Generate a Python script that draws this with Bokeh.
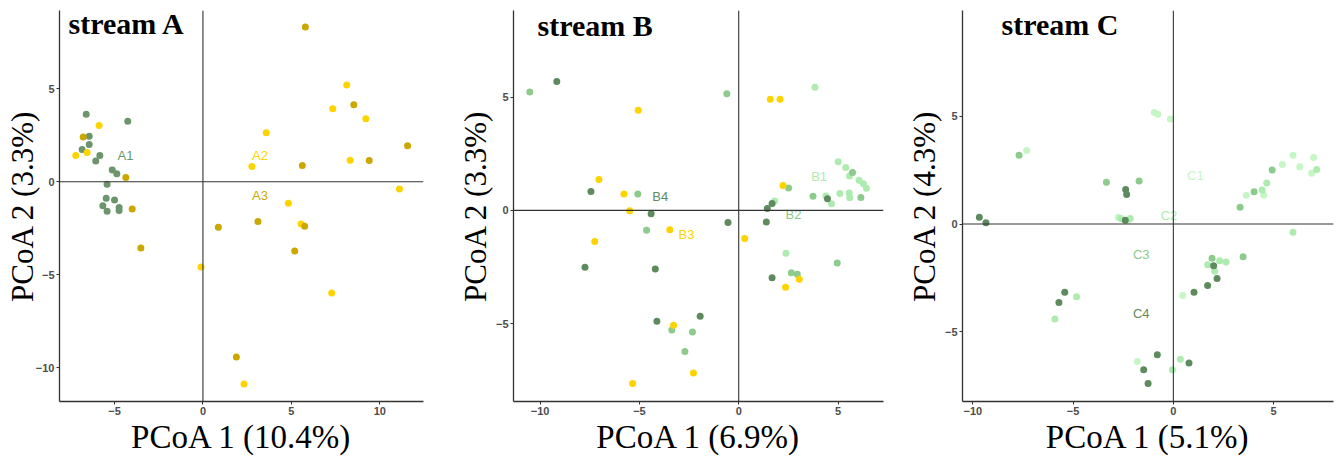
from bokeh.plotting import figure
from bokeh.layouts import row
from bokeh.models import Span, Label, ColumnDataSource, FixedTicker, Range1d
from bokeh.core.properties import value
from bokeh.embed import file_html
from bokeh.resources import INLINE

# ---------------- data ----------------
# stream A
a1_x = [-6.6, -4.25, -6.43, -6.43, -6.83, -5.83, -6.06, -5.13, -4.87, -5.42, -5.47, -5.0, -5.66, -4.74, -4.74, -5.42]
a1_y = [3.63, 3.25, 2.45, 2.0, 1.73, 1.41, 1.11, 0.63, 0.43, -0.14, -0.89, -0.98, -1.29, -1.38, -1.55, -1.59]
a2_x = [-5.87, -7.19, -6.55, 3.58, 2.77, 8.13, 7.34, 9.21, 8.32, 11.11, 4.83, 5.55, -0.11, 7.28, 2.32]
a2_y = [3.02, 1.41, 1.57, 2.64, 0.82, 5.2, 3.93, 3.39, 1.16, -0.39, -1.16, -2.27, -4.59, -5.98, -10.88]
a3_x = [-6.77, -4.36, -4.0, -3.51, 5.79, 8.53, 5.62, 9.4, 11.57, 3.11, 5.75, 0.87, 5.19, 1.89]
a3_y = [2.41, 0.23, -1.46, -3.57, 8.32, 4.14, 0.88, 1.14, 1.93, -2.14, -2.39, -2.45, -3.73, -9.43]
a_lab = ["A1", "A2", "A3"]
a_lab_x = [-4.38, 3.23, 3.23]
a_lab_y = [1.39, 1.39, -0.75]

# stream B
b1_x = [3.84, 5.01, 5.39, 5.58, 6.06, 6.28, 6.43, 5.09, 5.56, 5.59, 4.39, 4.67, 1.81, 2.38]
b1_y = [5.44, 2.15, 1.89, 1.52, 1.33, 1.18, 0.98, 0.75, 0.77, 0.56, 0.64, 0.29, 0.42, -1.89]
b2_x = [-10.52, -0.6, -5.08, -4.64, 5.73, 6.15, 3.74, 2.51, 4.96, 2.65, 2.95, -3.37, -2.33, -2.71]
b2_y = [5.23, 5.15, 0.73, -0.88, 1.68, 0.57, 0.63, 0.99, -2.32, -2.75, -2.82, -5.28, -5.37, -6.23]
b3_x = [-5.06, 1.59, 2.08, -7.04, -5.78, -5.49, -3.47, -7.25, 0.3, 2.23, 2.36, 3.05, -3.28, -2.28, -5.34]
b3_y = [4.42, 4.91, 4.91, 1.36, 0.72, -0.01, -0.85, -1.37, -1.24, 1.1, -3.39, -3.04, -5.07, -7.18, -7.65]
b4_x = [-9.16, -7.44, -4.41, -0.54, 1.68, 1.44, 1.39, 4.47, 1.68, -7.74, -4.2, -4.12, -1.94]
b4_y = [5.69, 0.83, -0.15, -0.53, 0.31, 0.09, -0.51, 0.51, -2.97, -2.51, -2.59, -4.9, -4.68]
b_lab = ["B1", "B2", "B3", "B4"]
b_lab_x = [4.05, 2.76, -2.63, -3.95]
b_lab_y = [1.52, -0.2, -1.08, 0.63]

# stream C
c1_x = [-0.95, -0.78, -0.15, -7.32, 5.97, 5.44, 6.31, 7.0, 6.9, 3.64, 4.51, 0.47, -1.8, -2.75, -2.26]
c1_y = [5.17, 5.09, 4.86, 3.40, 3.19, 2.76, 2.65, 3.08, 2.35, 1.33, 1.35, -3.31, -6.37, 0.31, 0.18]
c2_x = [7.15, 4.66, 4.43, 5.97, 1.71, 2.31, 2.63, 2.06, -4.83, -5.91, -0.05, 0.35, -2.63, -2.15]
c2_y = [2.53, 1.90, 1.58, -0.38, -1.89, -1.70, -1.76, -2.19, -3.37, -4.40, -6.75, -6.26, 0.26, 0.26]
c3_x = [-7.70, -3.34, -1.71, 4.93, 4.03, 3.33, 3.48, 1.93]
c3_y = [3.19, 1.93, 1.99, 2.50, 1.49, 0.78, -1.52, -1.58]
c4_x = [-9.68, -9.35, -2.38, -2.33, -2.40, 2.01, 2.18, 1.71, 1.03, -5.42, -5.71, -0.80, 0.78, -1.48, -1.26]
c4_y = [0.31, 0.06, 1.60, 1.37, 0.18, -1.93, -2.52, -2.85, -3.16, -3.16, -3.63, -6.06, -6.44, -6.75, -7.39]
c_lab = ["C1", "C2", "C3", "C4"]
c_lab_x = [1.1, -0.22, -1.6, -1.6]
c_lab_y = [2.24, 0.41, -1.43, -4.14]

# ticks / axis titles
a_xticks = [-5, 0, 5, 10]
a_yticks = [-10, -5, 0, 5]
b_xticks = [-10, -5, 0, 5]
b_yticks = [-5, 0, 5]
c_xticks = [-10, -5, 0, 5]
c_yticks = [-5, 0, 5]
titles = ["stream A", "stream B", "stream C"]
xlabels = ["PCoA 1 (10.4%)", "PCoA 1 (6.9%)", "PCoA 1 (5.1%)"]
ylabels = ["PCoA 2 (3.3%)", "PCoA 2 (3.3%)", "PCoA 2 (4.3%)"]

# ---------------- style ----------------
DARK = "#5E8B5E"
A1C = "#6C956C"
MED = "#8DCB8D"
LIGHT = "#AEEBAE"
VLIGHT = "#C6F6C6"
YEL = "#FFD300"
GOLD = "#CCA700"
AXC = "#333333"


def make_panel(width, borders, xr, yr, xticks, yticks, groups, labs, title, title_pos, xlabel, ylabel, ystand):
    bl, br, bt, bb = borders
    p = figure(width=width, height=464, output_backend="svg", toolbar_location=None,
               x_range=Range1d(*xr), y_range=Range1d(*yr),
               min_border_left=bl, min_border_right=br, min_border_top=bt, min_border_bottom=bb)
    p.outline_line_color = None
    p.xgrid.visible = False
    p.ygrid.visible = False
    p.background_fill_color = "white"
    p.border_fill_color = "white"
    for ax, ticks in ((p.xaxis, xticks), (p.yaxis, yticks)):
        ax.ticker = FixedTicker(ticks=ticks)
        ax.axis_line_color = AXC
        ax.axis_line_width = 1.3
        ax.major_tick_line_color = AXC
        ax.major_tick_out = 3
        ax.major_tick_in = 0
        ax.minor_tick_line_color = None
        ax.major_label_text_font = "Liberation Sans"
        ax.major_label_text_font_size = "11px"
        ax.major_label_text_font_style = "bold"
        ax.major_label_text_color = "#4D4D4D"
        ax.major_label_standoff = 2
        ax.axis_label_text_font = "Liberation Serif"
        ax.axis_label_text_font_style = "normal"
        ax.axis_label_text_color = "black"
    p.xaxis.axis_label = xlabel
    p.xaxis.axis_label_text_font_size = "33px"
    p.xaxis.axis_label_standoff = 1
    p.yaxis.axis_label = ylabel
    p.yaxis.axis_label_text_font_size = "31px"
    p.yaxis.axis_label_standoff = ystand

    p.add_layout(Span(location=0, dimension="height", line_color=AXC, line_width=1.1))
    p.add_layout(Span(location=0, dimension="width", line_color=AXC, line_width=1.1))

    for gx, gy, col in groups:
        p.scatter(gx, gy, size=7, fill_color=col, line_color=None)

    lx, ly, lt, lc = labs
    src = ColumnDataSource(dict(x=lx, y=ly, t=lt, c=lc))
    p.text(x="x", y="y", text="t", text_color="c", source=src,
           text_font=value("Liberation Sans"), text_font_size="13px",
           text_align="center", text_baseline="middle")

    tx, ty = title_pos
    p.add_layout(Label(x=tx, y=ty, x_units="screen", y_units="screen", text=title,
                       text_font="Liberation Serif", text_font_style="bold",
                       text_font_size="30px", text_color="black",
                       text_baseline="alphabetic", text_align="left"))
    return p


pA = make_panel(440, (59, 17, 10, 61), (-8.11, 12.47), (-11.82, 9.21), a_xticks, a_yticks,
                [(a1_x, a1_y, A1C), (a2_x, a2_y, YEL), (a3_x, a3_y, GOLD)],
                (a_lab_x, a_lab_y, a_lab, [A1C, YEL, GOLD]),
                titles[0], (9, 378), xlabels[0], ylabels[0], -7)

pB = make_panel(450, (73, 7, 7, 63), (-11.34, 7.29), (-8.44, 8.83), b_xticks, b_yticks,
                [(b1_x, b1_y, LIGHT), (b2_x, b2_y, MED), (b3_x, b3_y, YEL), (b4_x, b4_y, DARK)],
                (b_lab_x, b_lab_y, b_lab, [LIGHT, MED, YEL, DARK]),
                titles[1], (24, 376), xlabels[1], ylabels[1], 0)

pC = make_panel(450, (72, 7, 7, 63), (-10.52, 7.99), (-8.22, 9.89), c_xticks, c_yticks,
                [(c1_x, c1_y, VLIGHT), (c2_x, c2_y, LIGHT), (c3_x, c3_y, MED), (c4_x, c4_y, DARK)],
                (c_lab_x, c_lab_y, c_lab, [VLIGHT, LIGHT, MED, DARK]),
                titles[2], (39, 377), xlabels[2], ylabels[2], 0)

layout = row(pA, pB, pC, spacing=0)
open("out.html", "w").write(file_html(layout, INLINE))
